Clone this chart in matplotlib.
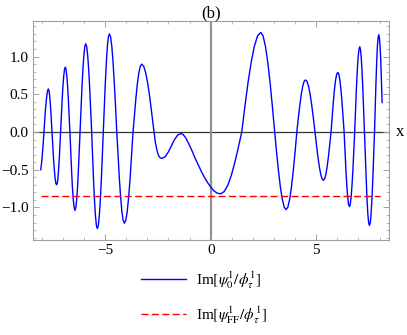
import matplotlib
matplotlib.use("Agg")
from matplotlib import pyplot as plt
from matplotlib.lines import Line2D
from matplotlib.ticker import MultipleLocator

# curve Im[psi0/phi]
x_vals = [
    -8.05, -8.00, -7.95, -7.90,
    -7.865, -7.83, -7.795, -7.76, -7.725, -7.69,
    -7.662, -7.633, -7.605, -7.577, -7.548, -7.52,
    -7.483, -7.447, -7.41, -7.373, -7.337, -7.30,
    -7.268, -7.237, -7.205, -7.173, -7.142, -7.11,
    -7.073, -7.037, -7.00, -6.963, -6.927, -6.89,
    -6.853, -6.817, -6.78, -6.743, -6.707, -6.67,
    -6.63, -6.59, -6.55, -6.51, -6.47, -6.43,
    -6.39, -6.35, -6.31, -6.27, -6.23, -6.19,
    -6.145, -6.10, -6.055, -6.01, -5.965, -5.92,
    -5.873, -5.827, -5.78, -5.733, -5.687, -5.64,
    -5.595, -5.55, -5.505, -5.46, -5.415, -5.37,
    -5.323, -5.277, -5.23, -5.183, -5.137, -5.09,
    -5.042, -4.993, -4.945, -4.897, -4.848, -4.80,
    -4.742, -4.683, -4.625, -4.567, -4.508, -4.45,
    -4.39, -4.33, -4.27, -4.21, -4.15, -4.09,
    -4.022, -3.953, -3.885, -3.817, -3.748, -3.68,
    -3.612, -3.543, -3.475, -3.407, -3.338, -3.27,
    -3.173, -3.077, -2.98, -2.883, -2.787, -2.69,
    -2.627, -2.563, -2.50, -2.437, -2.373, -2.31,
    -2.162, -2.013, -1.865, -1.717, -1.568, -1.42,
    -1.30, -1.18, -1.05, -0.90, -0.75, -0.60, -0.45,
    -0.30, -0.15, 0.00, 0.15, 0.30, 0.47,
    0.637, 0.803, 0.97, 1.137, 1.303, 1.47,
    1.62, 1.77, 1.92, 2.07, 2.22, 2.37,
    2.48, 2.59, 2.70, 2.81, 2.92, 3.03,
    3.12, 3.21, 3.30, 3.39, 3.48, 3.57,
    3.655, 3.74, 3.825, 3.91, 3.995, 4.08,
    4.148, 4.217, 4.285, 4.353, 4.422, 4.49,
    4.565, 4.64, 4.715, 4.79, 4.865, 4.94,
    5.007, 5.073, 5.14, 5.207, 5.273, 5.34,
    5.40, 5.46, 5.52, 5.58, 5.64, 5.70,
    5.753, 5.807, 5.86, 5.913, 5.967, 6.02,
    6.07, 6.12, 6.17, 6.22, 6.27, 6.32,
    6.362, 6.403, 6.445, 6.487, 6.528, 6.57,
    6.612, 6.653, 6.695, 6.737, 6.778, 6.82,
    6.86, 6.90, 6.94, 6.98, 7.02, 7.06,
    7.097, 7.133, 7.17, 7.207, 7.243, 7.28,
    7.32, 7.36, 7.40, 7.44, 7.48, 7.52,
    7.56, 7.60, 7.64, 7.68, 7.72, 7.76,
    7.793, 7.827, 7.86, 7.893, 7.927, 7.96,
    7.993, 8.027, 8.06, 8.093, 8.12,
]
y_vals = [
    -0.50, -0.38, -0.21, 0.00,
    0.15, 0.29, 0.40, 0.49, 0.55, 0.57,
    0.55, 0.49, 0.40, 0.29, 0.15, 0.00,
    -0.18, -0.35, -0.49, -0.61, -0.68, -0.70,
    -0.68, -0.61, -0.49, -0.35, -0.18, 0.00,
    0.22, 0.43, 0.61, 0.74, 0.83, 0.86,
    0.83, 0.74, 0.61, 0.43, 0.22, 0.00,
    -0.27, -0.52, -0.74, -0.90, -1.00, -1.04,
    -1.00, -0.90, -0.74, -0.52, -0.27, 0.00,
    0.30, 0.585, 0.83, 1.01, 1.13, 1.17,
    1.13, 1.01, 0.83, 0.585, 0.30, 0.00,
    -0.33, -0.64, -0.905, -1.11, -1.24, -1.28,
    -1.24, -1.11, -0.905, -0.64, -0.33, 0.00,
    0.34, 0.65, 0.92, 1.13, 1.26, 1.30,
    1.26, 1.13, 0.92, 0.65, 0.34, 0.00,
    -0.31, -0.605, -0.855, -1.05, -1.17, -1.21,
    -1.17, -1.05, -0.855, -0.605, -0.31, 0.00,
    0.23, 0.45, 0.64, 0.78, 0.87, 0.90,
    0.87, 0.78, 0.64, 0.45, 0.23, 0.00,
    -0.13, -0.22, -0.29, -0.33, -0.345, -0.35,
    -0.328, -0.268, -0.185, -0.102, -0.042, -0.02,
    -0.035, -0.08, -0.15, -0.24, -0.34, -0.43, -0.52,
    -0.60, -0.67, -0.73, -0.78, -0.81, -0.82,
    -0.79, -0.71, -0.58, -0.41, -0.21, 0.00,
    0.34, 0.66, 0.93, 1.14, 1.275, 1.32,
    1.275, 1.14, 0.93, 0.66, 0.34, 0.00,
    -0.27, -0.515, -0.73, -0.89, -0.995, -1.03,
    -0.995, -0.89, -0.73, -0.515, -0.27, 0.00,
    0.18, 0.345, 0.49, 0.60, 0.67, 0.69,
    0.67, 0.60, 0.49, 0.345, 0.18, 0.00,
    -0.165, -0.32, -0.45, -0.555, -0.62, -0.64,
    -0.62, -0.555, -0.45, -0.32, -0.165, 0.00,
    0.205, 0.395, 0.56, 0.685, 0.765, 0.79,
    0.765, 0.685, 0.56, 0.395, 0.205, 0.00,
    -0.255, -0.495, -0.70, -0.855, -0.955, -0.99,
    -0.955, -0.855, -0.70, -0.495, -0.255, 0.00,
    0.29, 0.565, 0.80, 0.98, 1.09, 1.13,
    1.09, 0.98, 0.80, 0.565, 0.29, 0.00,
    -0.32, -0.62, -0.875, -1.075, -1.20, -1.24,
    -1.20, -1.075, -0.875, -0.62, -0.32, 0.00,
    0.335, 0.645, 0.91, 1.12, 1.245, 1.29,
    1.245, 1.12, 0.91, 0.645, 0.39,
]

# constant far-field level
ff_x = [-8.05, 8.0]
ff_y = [-0.85, -0.85]

x_ticks = [-5, 0, 5]
y_ticks = [-1.0, -0.5, 0.0, 0.5, 1.0]

plt.rcParams['font.family'] = ['Liberation Serif', 'DejaVu Serif']
plt.rcParams['mathtext.fontset'] = 'stix'

fig = plt.figure(figsize=(4.07, 3.35), dpi=100)
ax = fig.add_axes([0.081, 0.284, 0.875, 0.653])

frame_col = '#a0a0a0'
ax.axhline(0, color='#333333', lw=0.9, zorder=1)
ax.axvline(0, color='#909090', lw=1.6, zorder=1)

ax.plot(x_vals, y_vals, color=(0, 0, 1), lw=1.0, zorder=3)
ax.plot(ff_x, ff_y, color=(1, 0, 0), lw=1.0, ls=(0, (5, 2.5)), zorder=4)

ax.set_xlim(-8.42, 8.45)
ax.set_ylim(-1.43, 1.47)
ax.set_xticks(x_ticks)
ax.set_xticklabels(['\u22125', '0', '5'])
ax.set_yticks(y_ticks)
ax.set_yticklabels(['\u22121.0', '\u22120.5', '0.0', '0.5', '1.0'])
ax.xaxis.set_minor_locator(MultipleLocator(1))
ax.yaxis.set_minor_locator(MultipleLocator(0.1))

for side in ax.spines.values():
    side.set_color(frame_col)
    side.set_linewidth(0.8)
ax.tick_params(which='both', direction='in', top=True, right=True,
               color=frame_col, labelsize=11, pad=3)
ax.tick_params(which='major', length=4, width=0.7)
ax.tick_params(which='minor', length=2, width=0.5)

ax.set_title('(b)', fontsize=12, pad=2)
fig.text(0.972, 1 - 132 / 335, 'x', fontsize=12, va='center', ha='left')

handles = [
    Line2D([], [], color=(0, 0, 1), lw=1.0),
    Line2D([], [], color=(1, 0, 0), lw=1.0, ls=(0, (5, 2.5))),
]
labels = [
    r'Im$[\psi^1_0/\phi^1_\tau]$',
    r'Im$[\psi^1_{\mathrm{FF}}/\phi^1_\tau]$',
]
fig.legend(handles, labels, loc='upper center', bbox_to_anchor=(0.5, 0.238),
           frameon=False, fontsize=11, handlelength=3.0, handletextpad=0.6,
           labelspacing=0.9)

fig.savefig('out.png', dpi=100)
